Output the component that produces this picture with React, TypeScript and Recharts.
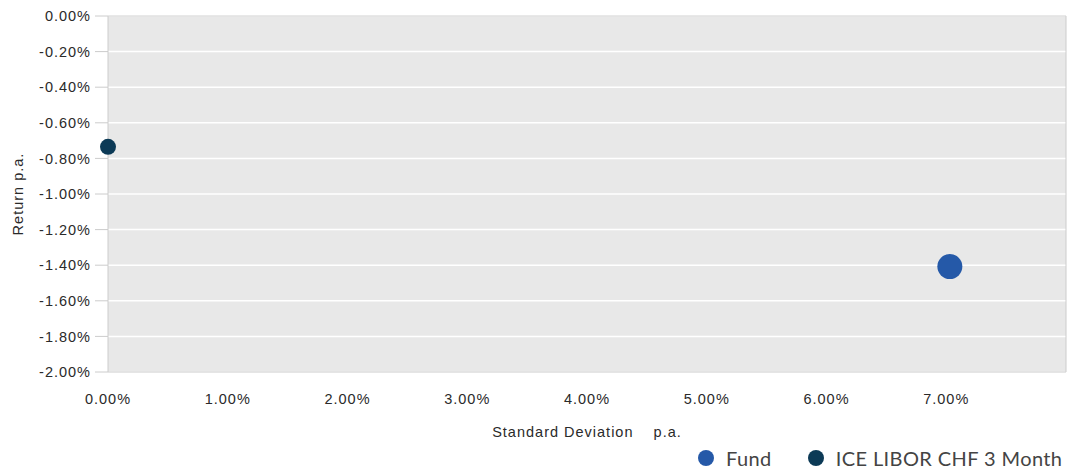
import React from 'react';
import {
  ScatterChart,
  Scatter,
  XAxis,
  YAxis,
  CartesianGrid,
  ReferenceLine,
} from 'recharts';

// Data (percent values)
const seriesNames = ['Fund', 'ICE LIBOR CHF 3 Month'];
const seriesColors = ['#2559a8', '#0c3a56'];
const fundData = [{ sd: 7.03, ret: -1.408 }];
const liborData = [{ sd: 0.0, ret: -0.735 }];
const xTicks = [0, 1, 2, 3, 4, 5, 6, 7];
const yTicks = [0, -0.2, -0.4, -0.6, -0.8, -1.0, -1.2, -1.4, -1.6, -1.8, -2.0];

const tickFont = {
  fontFamily: '"Liberation Sans", Arial, sans-serif',
  fontSize: 14.5,
  fill: '#2a2a2a',
  letterSpacing: 1,
};

const fmt = (v: number) => `${v.toFixed(2)}%`;

const dot = (r: number, color: string) => (props: any) => (
  <circle cx={props.cx} cy={props.cy} r={r} fill={color} />
);

export default function App() {
  return (
    <div style={{ position: 'relative', width: 1072, height: 462 }}>
      <ScatterChart
        width={1072}
        height={462}
        margin={{ top: 8, right: 14, bottom: 33, left: 0 }}
      >
        <CartesianGrid
          fill="#e8e8e8"
          stroke="#ffffff"
          strokeWidth={1.5}
          vertical={false}
        />
        <XAxis
          type="number"
          dataKey="sd"
          domain={[0, 8]}
          ticks={xTicks}
          tickFormatter={fmt}
          tickLine={false}
          tickSize={0}
          tickMargin={22}
          axisLine={{ stroke: '#cccccc' }}
          tick={tickFont}
          height={65}
          interval={0}
          label={{
            value: 'Standard Deviation\u00a0\u00a0\u00a0 p.a.',
            position: 'insideBottom',
            offset: 0,
            style: { ...tickFont, textAnchor: 'middle' },
          }}
        />
        <YAxis
          type="number"
          dataKey="ret"
          domain={[-2, 0]}
          ticks={yTicks}
          tickFormatter={fmt}
          tickSize={13}
          tickMargin={4}
          tickLine={{ stroke: '#cccccc' }}
          axisLine={{ stroke: '#cccccc' }}
          tick={tickFont}
          width={100}
          interval={0}
          label={{
            value: 'Return p.a.',
            angle: -90,
            position: 'insideLeft',
            offset: 10,
            style: { ...tickFont, textAnchor: 'middle' },
          }}
        />
        <ReferenceLine y={0} stroke="#d0d0d0" />
        <ReferenceLine x={8} stroke="#cccccc" />
        <Scatter
          name={seriesNames[1]}
          data={liborData}
          fill={seriesColors[1]}
          shape={dot(8, seriesColors[1])}
          isAnimationActive={false}
        />
        <Scatter
          name={seriesNames[0]}
          data={fundData}
          fill={seriesColors[0]}
          shape={dot(12.5, seriesColors[0])}
          isAnimationActive={false}
        />
      </ScatterChart>
      <div
        style={{
          position: 'absolute',
          left: 690,
          top: 438,
          display: 'flex',
          alignItems: 'center',
          fontFamily: 'Lato, sans-serif',
          fontSize: 20,
          letterSpacing: 0.4,
          color: '#444444',
          whiteSpace: 'nowrap',
        }}
      >
        {seriesNames.map((n, i) => (
          <div
            key={n}
            style={{
              display: 'flex',
              alignItems: 'center',
              marginRight: i === 0 ? 36 : 0,
            }}
          >
            <span
              style={{
                display: 'inline-block',
                width: 16,
                height: 16,
                borderRadius: 8,
                background: seriesColors[i],
                marginRight: 12,
              }}
            />
            <span>{n}</span>
          </div>
        ))}
      </div>
    </div>
  );
}
